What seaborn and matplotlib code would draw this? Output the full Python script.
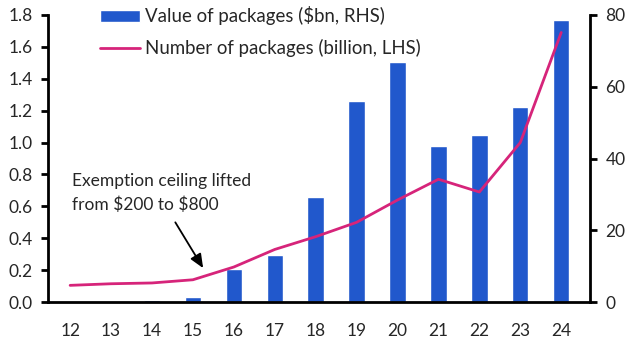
import matplotlib
matplotlib.use('Agg')
import matplotlib.pyplot as plt
import seaborn as sns
import pandas as pd
import numpy as np

sns.set_style('white')
plt.rcParams['font.family'] = ['Lato', 'DejaVu Sans']
plt.rcParams['font.size'] = 12
plt.rcParams['xtick.labelsize'] = 12.5
plt.rcParams['ytick.labelsize'] = 12.5

years = ['12', '13', '14', '15', '16', '17', '18', '19', '20', '21', '22', '23', '24']
value_bn = [0.0, 0.0, 0.5, 1.5, 9.2, 13.1, 29.3, 56.0, 66.9, 43.5, 46.5, 54.4, 78.6]
number_bn = [0.105, 0.115, 0.12, 0.14, 0.22, 0.33, 0.41, 0.50, 0.64, 0.77, 0.69, 1.0, 1.69]

bar_col = '#2158CC'
line_col = '#D6247A'

df = pd.DataFrame({'year': years, 'value': value_bn, 'number': number_bn})
df['pos'] = np.arange(len(df))

fig = plt.figure(figsize=(6.32, 3.55), dpi=100)
ax = fig.add_axes([0.076, 0.149, 0.858, 0.809])
ax2 = ax.twinx()

sns.barplot(data=df, x='year', y='value', ax=ax2, color=bar_col, width=0.4,
            saturation=1, label='Value of packages (\\$bn, RHS)')
sns.lineplot(data=df, x='pos', y='number', ax=ax, color=line_col, lw=2,
             label='Number of packages (billion, LHS)')

# line on top of bars
ax.set_zorder(ax2.get_zorder() + 1)
ax.patch.set_visible(False)

ax.set_xlim(-0.54, 12.71)
ax.set_ylim(0, 1.8)
ax2.set_ylim(0, 80)
ax.set_yticks(np.arange(0, 1.81, 0.2))
ax.set_yticklabels([f'{v:.1f}' for v in np.arange(0, 1.81, 0.2)])
ax2.set_yticks([0, 20, 40, 60, 80])
ax.set_xticks(df['pos'])
ax.set_xticklabels(years)
ax.set_xlabel('')
ax.set_ylabel('')
ax2.set_xlabel('')
ax2.set_ylabel('')

for a in (ax, ax2):
    a.spines['top'].set_visible(False)
    for s in ('left', 'right', 'bottom'):
        a.spines[s].set_linewidth(2)
        a.spines[s].set_color('black')
ax.spines['right'].set_visible(False)
ax2.spines['left'].set_visible(False)
ax2.spines['bottom'].set_visible(False)

ax.tick_params(axis='both', direction='out', length=5, width=2, color='black', pad=6)
ax.tick_params(axis='x', pad=10)
ax2.tick_params(axis='y', direction='out', length=5, width=2, color='black', pad=6)

h1, l1 = ax2.get_legend_handles_labels()
h2, l2 = ax.get_legend_handles_labels()
if ax2.get_legend():
    ax2.get_legend().remove()
ax.legend(h1 + h2, l1 + l2, loc='upper left', bbox_to_anchor=(0.096, 1.03),
          frameon=False, fontsize=13.4, handlelength=2.15, handleheight=0.6,
          handletextpad=0.27, labelspacing=0.75, borderpad=0, borderaxespad=0)

ax.text(0.05, 0.684, 'Exemption ceiling lifted\nfrom \\$200 to \\$800',
        fontsize=12.5, ha='left', va='center', linespacing=1.5)
ax.annotate('', xy=(3.25, 0.213), xytext=(2.57, 0.5),
            arrowprops=dict(arrowstyle='-|>,head_length=0.7,head_width=0.3',
                            color='black', lw=1.3, shrinkA=0, shrinkB=0))

fig.savefig('out.png', dpi=100)
